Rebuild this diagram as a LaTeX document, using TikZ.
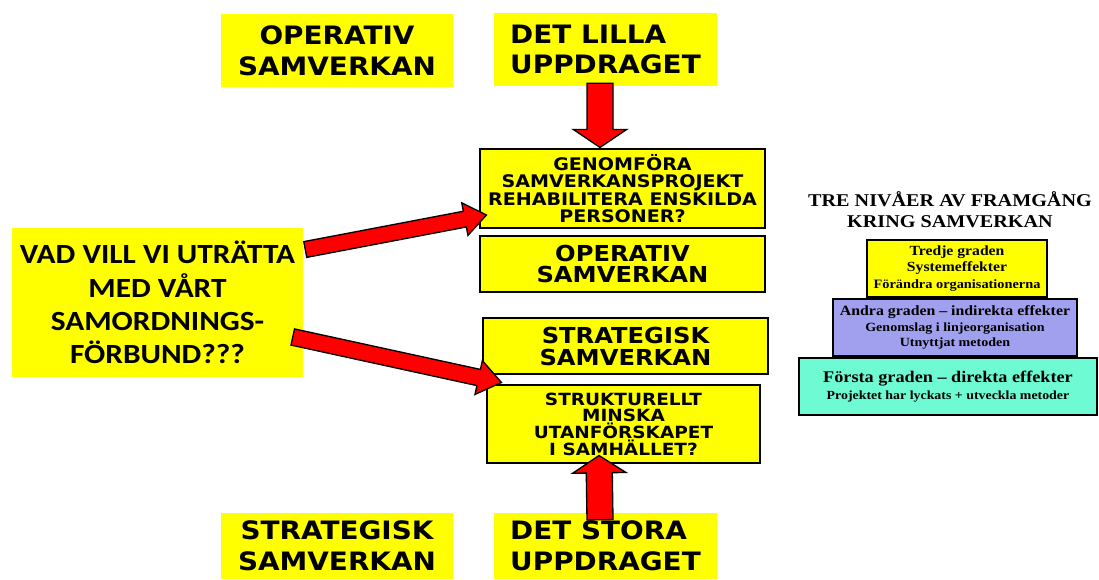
\documentclass[tikz,border=0pt]{standalone}
\usepackage{fontspec}
\usetikzlibrary{calc}
\newfontfamily\capsfont{DejaVu Sans}[FakeStretch=1.1]
\newfontfamily\calfont{Carlito}[FakeStretch=1.13]
\newfontfamily\serffont{Liberation Serif}[FakeStretch=1.12]
\definecolor{boxyellow}{RGB}{255,255,0}
\definecolor{arrowred}{RGB}{255,0,0}
\definecolor{pyrblue}{RGB}{160,160,238}
\definecolor{pyrmint}{RGB}{110,250,210}

% block arrow from #1 (tail) to #2 (tip): shaft half width #3, head half width #4, head length #5
\newcommand\blockarrow[5]{%
  \coordinate (ba) at ($(#2)!#5!(#1)$);
  \draw[block] ($(#1)!#3!90:(#2)$) -- ($(ba)!#3!90:(#2)$) -- ($(ba)!#4!90:(#2)$)
    -- (#2) -- ($(ba)!#4!-90:(#2)$) -- ($(ba)!#3!-90:(#2)$) -- ($(#1)!#3!-90:(#2)$) -- cycle;}

\begin{document}
\begin{tikzpicture}[x=0.75pt,y=-0.75pt,
  label box/.style={fill=boxyellow, inner sep=0pt, align=center,
    font=\capsfont\bfseries\fontsize{19}{23}\selectfont},
  frame box/.style={fill=boxyellow, draw=black, line width=0.8pt, inner sep=0pt, align=center},
  pyr box/.style={draw=black, line width=1.5pt, inner sep=0pt, align=center, minimum height=42.75pt},
  block/.style={fill=arrowred, draw=black, line width=1pt, line join=miter}]
\useasboundingbox (0,0) rectangle (1099,579);

% headline labels
\node[label box, minimum width=174pt, minimum height=54.75pt] (optop) at (337,50.5) {OPERATIV\\SAMVERKAN};
\node[label box, minimum width=167.25pt, minimum height=54.75pt, align=left] (lilla) at (605.5,49.5) {DET LILLA\\UPPDRAGET};
\node[label box, minimum width=174pt, minimum height=49.5pt] (strbot) at (337,546) {STRATEGISK\\SAMVERKAN};
\node[label box, minimum width=167.25pt, minimum height=49.5pt, align=left] (stora) at (605.5,546) {DET STORA\\UPPDRAGET};

% the question
\node[fill=boxyellow, inner sep=0pt, align=center, minimum width=218.25pt, minimum height=111.75pt,
  font=\calfont\bfseries\fontsize{20.8}{25}\selectfont] (left) at (157.5,302.5)
  {VAD VILL VI UTRÄTTA\\MED VÅRT\\SAMORDNINGS-\\FÖRBUND???};

% middle column
\node[frame box, minimum width=213.75pt, minimum height=59.25pt,
  font=\capsfont\bfseries\fontsize{13}{13.1}\selectfont] (genom) at (622.5,188.5)
  {GENOMFÖRA\\SAMVERKANSPROJEKT\\REHABILITERA ENSKILDA\\PERSONER?};
\node[frame box, minimum width=213.75pt, minimum height=42pt,
  font=\capsfont\bfseries\fontsize{16.5}{16}\selectfont] (opmid) at (622.5,264) {OPERATIV\\SAMVERKAN};
\node[frame box, minimum width=213.75pt, minimum height=42pt,
  font=\capsfont\bfseries\fontsize{16.5}{16.5}\selectfont] (strmid) at (625.5,346) {STRATEGISK\\SAMVERKAN};
\node[frame box, minimum width=204.75pt, minimum height=58.5pt,
  font=\capsfont\bfseries\fontsize{12.6}{12.5}\selectfont] (struk) at (623.5,424)
  {STRUKTURELLT\\MINSKA\\UTANFÖRSKAPET\\I SAMHÄLLET?};

% pyramid of success levels
\node[align=center, inner sep=0pt, font=\serffont\bfseries\fontsize{13.5}{16}\selectfont] (title) at (950,210)
  {TRE NIVÅER AV FRAMGÅNG\\KRING SAMVERKAN};
\node[pyr box, fill=boxyellow, minimum width=135pt, font=\serffont\bfseries\fontsize{9.6}{12.2}\selectfont] (p3) at (957,268.5)
  {{\fontsize{10.5}{12.2}\selectfont Tredje graden}\\{\fontsize{10.5}{12.2}\selectfont Systemeffekter}\\Förändra organisationerna};
\node[pyr box, fill=pyrblue, minimum width=183pt, font=\serffont\bfseries\fontsize{9.4}{11.4}\selectfont] (p2) at (955,327.5)
  {{\fontsize{10.6}{12.6}\selectfont Andra graden – indirekta effekter}\\Genomslag i linjeorganisation\\Utnyttjat metoden};
\node[pyr box, fill=pyrmint, minimum width=223.5pt, font=\serffont\bfseries\fontsize{9.3}{13}\selectfont] (p1) at (948,386.5)
  {{\fontsize{12.2}{14}\selectfont Första graden – direkta effekter}\\Projektet har lyckats + utveckla metoder};

% arrows
\coordinate (a1s) at ($(left.east)+(2,-53)$);
\coordinate (a1e) at ($(genom.west)+(7,26.5)$);
\coordinate (a2s) at ($(left.east)+(-10.5,34.5)$);
\coordinate (a2e) at ($(struk.north west)+(15,-2)$);
\coordinate (d1s) at ($(lilla.south)+(-5.5,-3)$);
\coordinate (d1e) at ($(genom.north)+(-22.5,-1)$);
\coordinate (u1s) at ($(stora.north)+(-5.5,7)$);
\coordinate (u1e) at ($(struk.south)+(-24.5,-8)$);
\blockarrow{a1s}{a1e}{6pt}{12.4pt}{16.5pt}
\blockarrow{a2s}{a2e}{6.2pt}{13pt}{17.5pt}
\blockarrow{d1s}{d1e}{9.75pt}{20pt}{13.5pt}
\blockarrow{u1s}{u1e}{9.75pt}{20pt}{13pt}
\end{tikzpicture}
\end{document}
